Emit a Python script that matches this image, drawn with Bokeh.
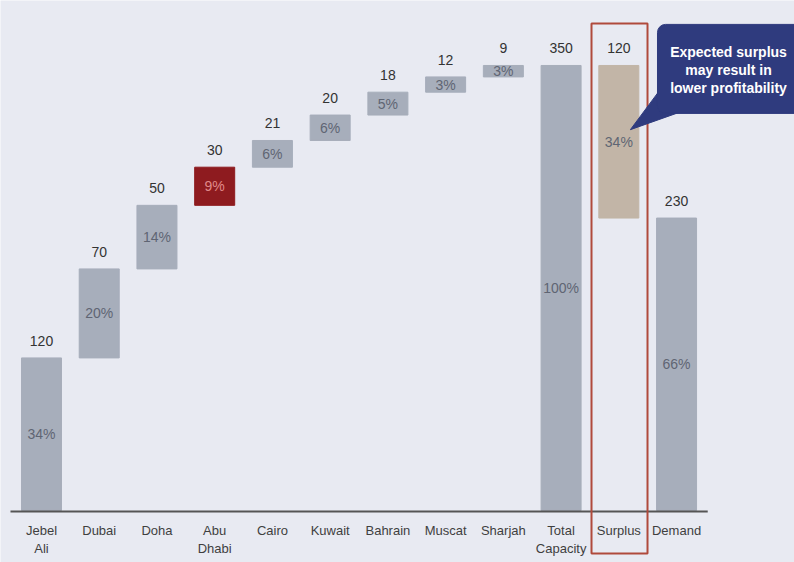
from bokeh.plotting import figure
from bokeh.models import ColumnDataSource, Range1d
from bokeh.core.properties import value
from bokeh.embed import file_html
from bokeh.resources import INLINE

categories = ["Jebel\nAli", "Dubai", "Doha", "Abu\nDhabi", "Cairo", "Kuwait",
              "Bahrain", "Muscat", "Sharjah", "Total\nCapacity", "Surplus", "Demand"]
values = [120, 70, 50, 30, 21, 20, 18, 12, 9, 350, 120, 230]
shares = ["34%", "20%", "14%", "9%", "6%", "6%", "5%", "3%", "3%", "100%", "34%", "66%"]
kinds = ["city"] * 9 + ["total", "surplus", "demand"]
callout_text = "Expected surplus\nmay result in\nlower profitability"

BG = "#e8eaf2"
GREY = "#a7aebb"
RED = "#8e1b1f"
TAN = "#c2b5a7"

bottoms = []
run = 0
for v, k in zip(values, kinds):
    if k == "city":
        bottoms.append(run)
        run += v
    elif k == "surplus":
        bottoms.append(values[9] - v)
    else:
        bottoms.append(0)
tops = [b + v for b, v in zip(bottoms, values)]
mids = [(b + t) / 2 for b, t in zip(bottoms, tops)]
xs = list(range(len(categories)))
colors = [RED if c.startswith("Abu") else TAN if k == "surplus" else GREY
          for c, k in zip(categories, kinds)]
pct_colors = ["#e08a8a" if c == RED else "#5f6573" for c in colors]

src = ColumnDataSource(dict(x=xs, bottom=bottoms, top=tops, mid=mids,
                            val=[str(v) for v in values], pct=shares,
                            cat=categories, color=colors, pctc=pct_colors,
                            zero=[0] * len(xs)))

p = figure(width=794, height=562, output_backend="svg", toolbar_location=None,
           x_range=Range1d(-0.710, 13.043), y_range=Range1d(-40.9, 401.1),
           x_axis_location=None, y_axis_location=None,
           min_border=0, background_fill_color=BG, border_fill_color=BG)
p.grid.visible = False
p.outline_line_color = None

p.vbar(x="x", bottom="bottom", top="top", width=0.693, color="color", source=src)

# baseline
p.segment(x0=-0.537, y0=-0.8, x1=11.54, y1=-0.8, line_color="#555555", line_width=2)

p.text(x="x", y="top", text="val", source=src, text_align="center",
       text_baseline="bottom", y_offset=-12, text_font=value("Liberation Sans"),
       text_font_size="14px", text_color="#333333")
p.text(x="x", y="mid", text="pct", source=src, text_align="center",
       text_baseline="middle", text_font=value("Liberation Sans"),
       text_font_size="14px", text_color="pctc")
p.text(x="x", y="zero", text="cat", source=src, text_align="center",
       text_baseline="top", y_offset=13, text_font=value("Liberation Sans"),
       text_font_size="13px", text_color="#3f3f3f", text_line_height=1.2)

# highlight box around Surplus
p.quad(left=9.527, right=10.497, bottom=-33.8, top=383, fill_color=None,
       line_color="#b04a3c", line_width=2)

# callout
CALL = "#2f3b7e"
p.patch(x=[10.70, 11.35, 10.20], y=[330, 318, 299.5], color=CALL)
p.quad(left=10.67, right=13.3, bottom=312.3, top=382.3, color=CALL, border_radius=8)
p.text(x=[11.90], y=[346.5], text=[callout_text], text_align="center",
       text_baseline="middle", text_font=value("Liberation Sans"),
       text_font_style="bold", text_font_size="14px", text_color="#ffffff",
       text_line_height=1.1)

open("out.html", "w").write(file_html(p, INLINE))
